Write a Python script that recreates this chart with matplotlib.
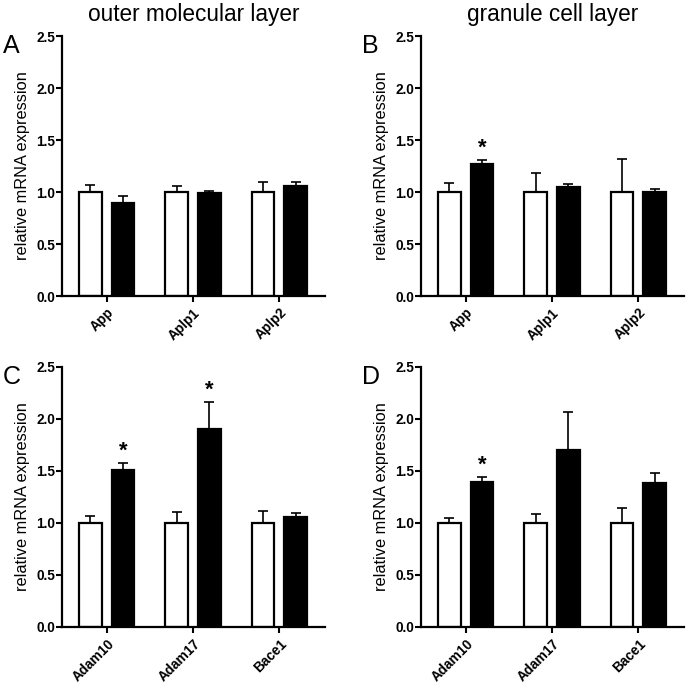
import numpy as np
import matplotlib
matplotlib.use("Agg")
import matplotlib.pyplot as plt

plt.rcParams["font.family"] = ["Liberation Sans", "DejaVu Sans"]

# Gene categories for the top and bottom rows
app_genes = ["App", "Aplp1", "Aplp2"]
secretase_genes = ["Adam10", "Adam17", "Bace1"]

# Panel A: outer molecular layer, APP family
a_white = [1.0, 1.0, 1.0]
a_white_err = [0.065, 0.054, 0.10]
a_black = [0.89, 0.987, 1.055]
a_black_err = [0.068, 0.026, 0.045]
a_star = [False, False, False]

# Panel B: granule cell layer, APP family
b_white = [1.0, 1.0, 1.0]
b_white_err = [0.09, 0.183, 0.317]
b_black = [1.266, 1.048, 0.996]
b_black_err = [0.045, 0.03, 0.034]
b_star = [True, False, False]

# Panel C: outer molecular layer, secretases
c_white = [1.0, 1.0, 1.0]
c_white_err = [0.07, 0.105, 0.12]
c_black = [1.513, 1.90, 1.054]
c_black_err = [0.065, 0.266, 0.038]
c_star = [True, True, False]

# Panel D: granule cell layer, secretases
d_white = [1.0, 1.0, 1.0]
d_white_err = [0.048, 0.09, 0.14]
d_black = [1.394, 1.70, 1.385]
d_black_err = [0.046, 0.37, 0.095]
d_star = [True, False, False]

fig = plt.figure(figsize=(6.86, 6.85), dpi=100)

ax_w = 263 / 686
ax_h = 260 / 685
panels = [
    (62 / 686, 1 - 296 / 685, "A", "outer molecular layer", app_genes, a_white, a_white_err, a_black, a_black_err, a_star),
    (421 / 686, 1 - 296 / 685, "B", "granule cell layer", app_genes, b_white, b_white_err, b_black, b_black_err, b_star),
    (62 / 686, 1 - 627 / 685, "C", None, secretase_genes, c_white, c_white_err, c_black, c_black_err, c_star),
    (421 / 686, 1 - 627 / 685, "D", None, secretase_genes, d_white, d_white_err, d_black, d_black_err, d_star),
]

width = 0.26
offset = 0.19

for left, bottom, letter, title, genes, white, white_err, black, black_err, stars in panels:
    ax = fig.add_axes([left, bottom, ax_w, ax_h])
    x = np.arange(len(genes))

    ax.bar(x - offset, white, width, color="white", edgecolor="black", linewidth=1.6, zorder=2)
    ax.errorbar(x - offset, white, yerr=[np.zeros(len(genes)), white_err], fmt="none",
                ecolor="black", elinewidth=1.2, capsize=3.6, capthick=1.2, zorder=1)
    ax.bar(x + offset, black, width, color="black", edgecolor="black", linewidth=1.6, zorder=2)
    ax.errorbar(x + offset, black, yerr=[np.zeros(len(genes)), black_err], fmt="none",
                ecolor="black", elinewidth=1.2, capsize=3.6, capthick=1.2, zorder=1)

    # significance stars above the black bars
    for i, s in enumerate(stars):
        if s:
            ax.annotate("*", (x[i] + offset, black[i] + black_err[i]), textcoords="offset points",
                        xytext=(0, 1), ha="center", va="bottom", fontsize=16, fontweight="bold")

    ax.set_xlim(-0.52, 2.53)
    ax.set_ylim(0, 2.5)
    ax.set_yticks([0.0, 0.5, 1.0, 1.5, 2.0, 2.5])
    ax.set_yticklabels(["0.0", "0.5", "1.0", "1.5", "2.0", "2.5"], fontweight="bold", fontsize=9.8)
    ax.set_xticks(x)
    ax.set_xticklabels(genes, rotation=45, ha="right", rotation_mode="anchor", fontweight="bold", fontsize=9.8)
    ax.tick_params(axis="both", direction="out", length=4, width=1.5, pad=1)
    ax.tick_params(axis="x", pad=3)

    for side in ["top", "right"]:
        ax.spines[side].set_visible(False)
    for side in ["left", "bottom"]:
        ax.spines[side].set_linewidth(1.6)

    ax.set_ylabel("relative mRNA expression", fontsize=11.8, labelpad=4)
    if title:
        ax.set_title(title, fontsize=16.3, pad=11)

    # panel letter in the upper-left corner of each quadrant
    fig.text(left - 59 / 686, bottom + ax_h + 2 / 685, letter, fontsize=18, ha="left", va="top")

fig.savefig("out.png", dpi=100)
